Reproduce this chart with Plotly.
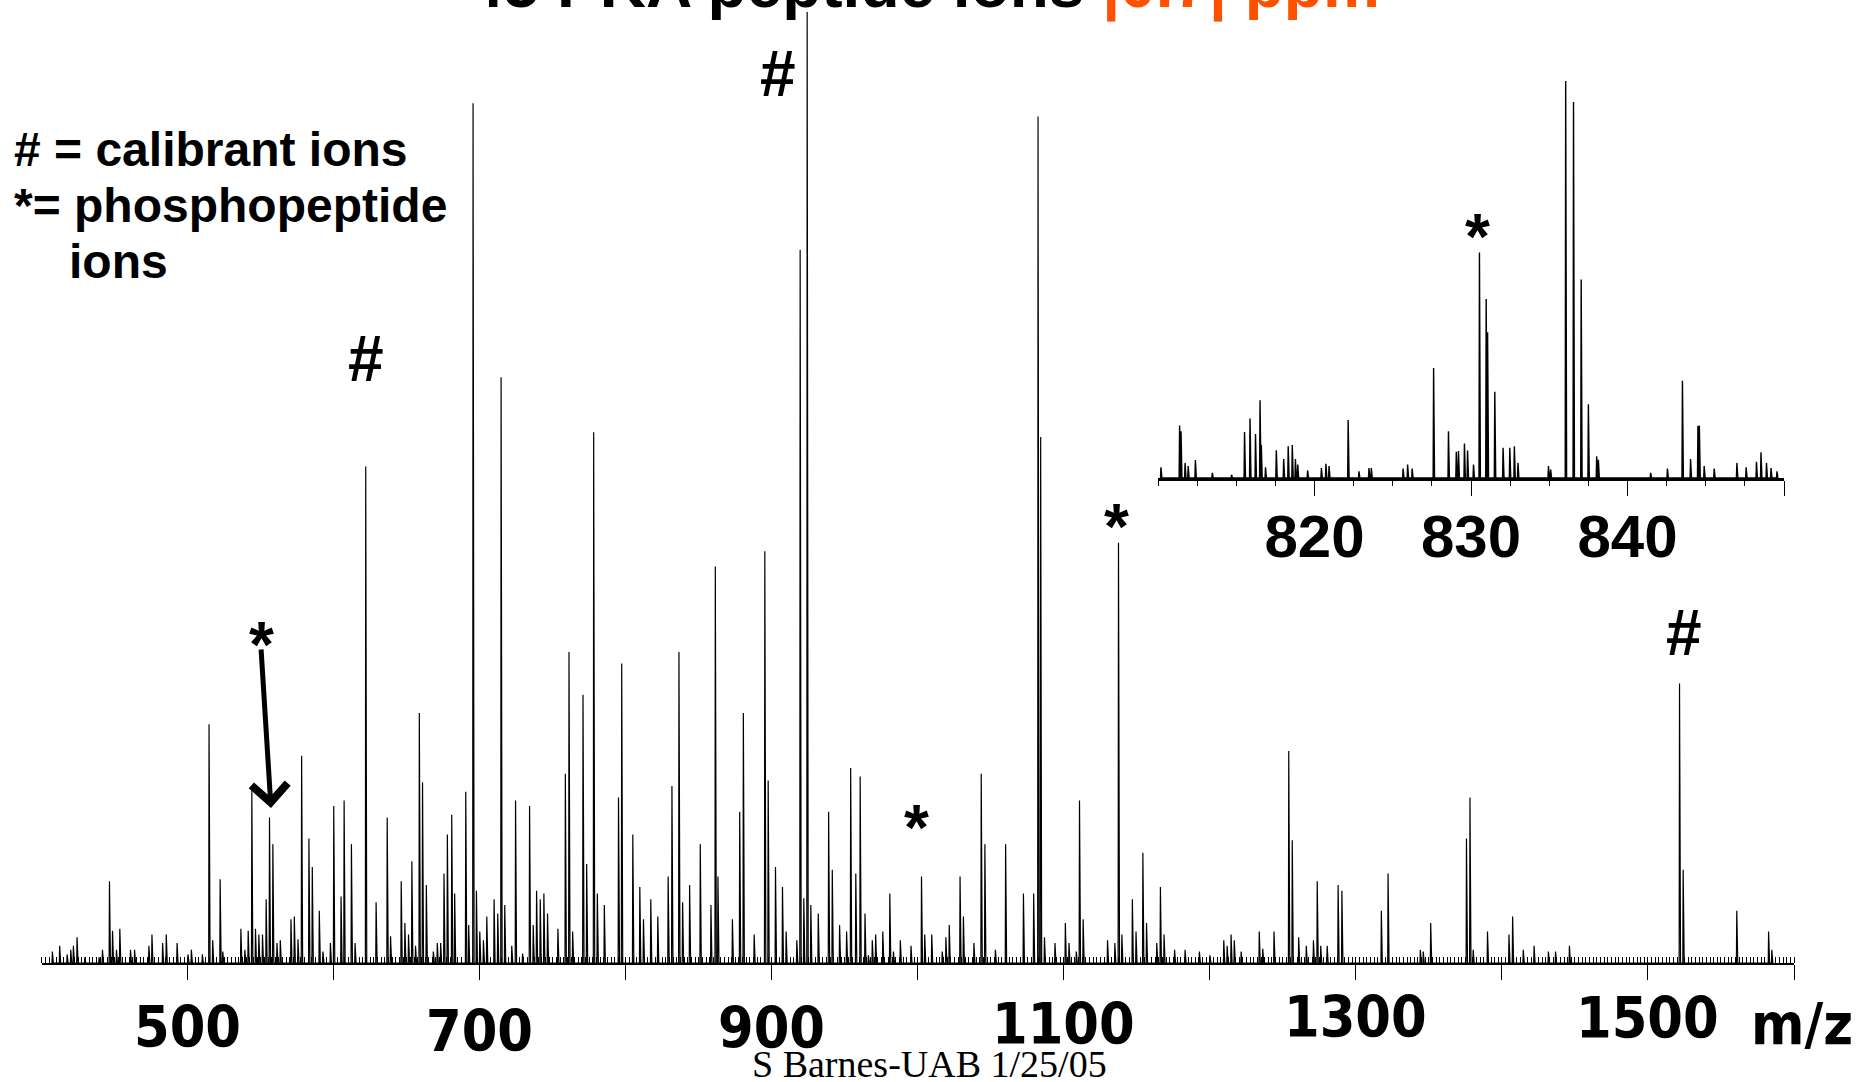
import plotly.graph_objects as go

# ---------------- data ----------------
# main spectrum: peak m/z and relative intensity (% of base peak)
main_mz = [407.3, 412.3, 417.4, 419.9, 421.7, 424.2, 429.5, 439.3, 441.6, 446.4, 448.5, 451.2, 453.5,
           460.8, 463.6, 473.4, 475.5, 482.8, 485.3, 492.7, 500.2, 502.5, 510.0, 514.6, 517.1, 522.2,
           524.0, 536.4, 539.1, 541.4, 543.9, 546.4, 548.7, 551.2, 553.7, 556.0, 558.3, 561.1, 563.4,
           570.7, 573.0, 575.5, 578.0, 583.0, 585.3, 590.1, 592.6, 597.7, 600.0, 605.0, 607.1, 612.1,
           614.6, 621.9, 629.0, 636.6, 638.9, 646.2, 648.7, 651.2, 653.5, 656.0, 658.6, 660.8, 663.4,
           668.2, 670.9, 673.2, 675.5, 677.8, 680.8, 682.8, 690.4, 692.4, 695.4, 697.7, 700.0, 702.5,
           704.8, 709.8, 712.3, 714.6, 717.1, 721.9, 724.5, 729.3, 734.1, 736.6, 738.9, 741.4, 743.9,
           746.4, 753.5, 758.6, 761.1, 763.6, 770.7, 773.2, 778.0, 780.5, 785.3, 795.0, 797.2, 804.8,
           809.6, 812.1, 817.1, 821.9, 829.0, 831.6, 836.4, 838.9, 843.7, 851.0, 858.3, 861.3, 863.1,
           873.0, 878.0, 880.5, 887.9, 895.2, 897.5, 902.5, 907.3, 909.8, 917.1, 919.4, 921.9, 924.2,
           926.7, 931.8, 938.9, 941.4, 946.4, 951.2, 954.0, 957.5, 960.5, 963.8, 966.1, 968.8, 971.1,
           976.0, 980.8, 983.3, 988.0, 995.3, 1002.5, 1004.7, 1009.5, 1016.7, 1019.2, 1021.5, 1028.9,
           1031.2, 1038.4, 1043.4, 1045.9, 1053.1, 1060.1, 1072.3, 1079.3, 1082.3, 1084.1, 1086.7,
           1093.9, 1101.0, 1103.5, 1108.5, 1110.7, 1113.2, 1129.9, 1134.9, 1137.4, 1139.7, 1146.9,
           1149.4, 1154.1, 1156.6, 1163.6, 1166.1, 1168.6, 1175.8, 1183.0, 1192.8, 1200.0, 1209.5,
           1211.8, 1214.5, 1216.7, 1221.4, 1233.8, 1236.2, 1243.9, 1254.0, 1256.4, 1260.8, 1266.0,
           1270.9, 1273.5, 1275.9, 1280.3, 1287.8, 1290.4, 1317.4, 1322.0, 1344.1, 1346.1, 1351.2,
           1375.7, 1378.1, 1380.3, 1390.1, 1404.8, 1407.3, 1414.6, 1422.0, 1431.8, 1436.7, 1446.2,
           1521.6, 1524.1, 1560.8, 1582.6, 1584.8]
main_int = [1.2, 1.8, 0.9, 1.4, 1.8, 2.7, 0.6, 0.6, 1.4, 8.6, 3.4, 1.4, 3.6,
            1.4, 1.4, 1.8, 3.0, 2.1, 3.0, 2.1, 0.9, 1.4, 0.9, 25.1, 2.4, 8.8,
            1.2, 3.6, 1.4, 3.4, 18.1, 3.6, 3.0, 3.0, 6.7, 15.3, 12.5, 2.1, 2.4,
            4.6, 4.9, 2.5, 21.8, 13.1, 10.1, 5.5, 1.2, 2.1, 16.5, 7.0, 17.1, 12.5,
            2.1, 52.2, 6.4, 15.3, 2.8, 8.6, 4.2, 3.0, 10.7, 1.8, 26.3, 19.0, 8.2,
            1.2, 2.1, 2.1, 9.4, 13.5, 15.6, 7.3, 18.0, 4.0, 90.4, 7.6, 3.3, 2.4,
            4.9, 6.7, 5.2, 61.6, 6.1, 1.8, 17.1, 1.0, 16.5, 4.0, 7.6, 6.7, 7.3,
            5.2, 3.6, 19.9, 32.7, 3.3, 28.2, 10.4, 55.8, 7.3, 6.1, 17.4, 31.5, 13.5,
            8.0, 4.6, 6.7, 4.9, 9.1, 18.6, 32.7, 6.4, 8.2, 12.5, 6.1, 41.7, 9.1,
            4.6, 15.9, 26.3, 3.0, 43.3, 19.2, 10.1, 8.0, 3.3, 2.4, 75.0, 6.8, 100.0,
            6.1, 5.2, 15.9, 9.8, 4.0, 3.3, 20.5, 9.4, 19.6, 5.2, 0.8, 2.4, 3.0,
            3.3, 7.3, 1.2, 2.4, 1.8, 9.1, 3.0, 3.0, 1.2, 2.7, 4.0, 9.1,
            4.9, 2.1, 19.9, 12.5, 1.4, 12.5, 7.3, 7.3, 89.0, 55.3, 2.7,
            2.1, 4.2, 2.1, 1.2, 17.1, 4.6, 2.4, 2.1, 44.2, 3.0, 6.7,
            3.3, 11.6, 4.2, 2.1, 8.0, 3.0, 1.4, 1.4, 1.2, 0.8, 2.4,
            1.8, 3.0, 2.4, 1.2, 3.3, 1.5, 3.3, 22.3, 12.9, 2.7, 1.8,
            2.4, 8.6, 1.8, 1.8, 8.2, 7.6, 5.5, 9.4, 1.4, 1.2, 4.2,
            13.1, 17.4, 1.4, 3.3, 3.0, 4.9, 1.4, 1.8, 1.2, 1.2, 1.8,
            29.4, 9.8, 5.5, 3.3, 1.4]

# inset spectrum (810-850 m/z)
inset_mz = [810.19, 811.38, 811.47, 811.73, 811.93, 812.39, 813.47, 814.70, 815.53, 815.88, 816.23,
            816.52, 816.60, 816.87, 817.56, 818.03, 818.32, 818.58, 818.78, 818.93, 819.56, 820.44,
            820.73, 820.93, 822.15, 822.84, 823.48, 823.63, 825.66, 825.95, 826.24, 827.61, 828.56,
            829.06, 829.20, 829.58, 829.78, 830.16, 830.54, 830.97, 831.06, 831.52, 832.05, 832.48,
            832.77, 833.00, 834.95, 835.09, 836.05, 836.55, 837.04, 837.50, 838.03, 838.14, 841.48,
            842.55, 843.51, 844.03, 844.50, 844.59, 844.90, 845.54, 846.99, 847.58, 848.24, 848.53,
            848.88, 849.17, 849.55]
inset_int = [2.7, 13.2, 11.8, 3.8, 3.0, 4.5, 1.3, 0.8, 11.6, 15.0, 11.1,
             19.6, 8.4, 2.7, 7.0, 4.8, 8.0, 8.3, 4.8, 3.4, 1.9, 2.5,
             3.6, 3.0, 14.6, 1.7, 2.5, 2.5, 2.4, 3.4, 2.4, 27.7, 11.8,
             6.6, 6.8, 8.7, 6.9, 3.4, 56.8, 45.1, 36.7, 21.7, 7.6, 7.6,
             8.0, 3.8, 3.0, 2.1, 100.0, 94.7, 50.0, 18.6, 5.5, 4.6, 1.3,
             2.4, 24.5, 4.8, 13.1, 13.2, 3.0, 2.4, 3.8, 2.7, 4.1, 6.5,
             3.8, 2.5, 1.7]

main_ticks = [500, 700, 900, 1100, 1300, 1500]
main_tick_labels = ["500", "700", "900", "1100", "1300", "1500"]
inset_ticks = [820, 830, 840, 850]
inset_tick_labels = ["820", "830", "840", ""]

calibrant_mz = [622.0, 904.0, 1524.5]
phospho_mz = [550.3, 999.4, 1135.7]
inset_phospho_mz = [830.4]

title_black = "45 PKA peptide ions "
title_orange = "|0.7| ppm"
legend_lines = ["# = calibrant ions", "*= phosphopeptide", "ions"]
credit = "S Barnes-UAB 1/25/05"


# ---------------- helpers ----------------
def profile(mzs, ints, left, right):
    pts = sorted(zip(mzs, ints))
    xs, ys = [], []
    for m, v in pts:
        xs += [m - left, m, m + right]
        ys += [0, v, 0]
    return xs, ys

W, H = 1862, 1082
def px(x):
    return x / W
def py(y):
    return 1 - y / H

mx, my = profile(main_mz, main_int, 0.25, 0.7)
ix, iy = profile(inset_mz, inset_int, 0.03, 0.06)

fig = go.Figure()
fig.add_trace(go.Scatter(x=mx, y=my, mode="lines", line=dict(color="black", width=1.2),
                         xaxis="x", yaxis="y", showlegend=False, hoverinfo="skip"))
fig.add_trace(go.Scatter(x=ix, y=iy, mode="lines", line=dict(color="black", width=1.4),
                         xaxis="x2", yaxis="y2", showlegend=False, hoverinfo="skip"))

NARROW = "Liberation Sans Narrow, Arial Narrow, DejaVu Sans Condensed, sans-serif"
SANS = "Liberation Sans, Arial, Helvetica, sans-serif"

fig.update_layout(
    width=W, height=H,
    margin=dict(l=0, r=0, t=0, b=0),
    paper_bgcolor="white", plot_bgcolor="white",
    xaxis=dict(domain=[px(41.7), px(1794)], range=[400, 1600], anchor="y",
               showline=True, linecolor="black", linewidth=2,
               ticks="outside", ticklen=15, tickwidth=1, tickcolor="black",
               tickvals=[500, 600, 700, 800, 900, 1000, 1100, 1200, 1300, 1400, 1500, 1600],
               showticklabels=False, showgrid=False, zeroline=False,
               minor=dict(ticks="inside", ticklen=6, tickwidth=1, tickcolor="black",
                          dtick=2.5, tick0=400, showgrid=False)),
    yaxis=dict(domain=[py(963), py(12)], range=[0, 100], visible=False),
    xaxis2=dict(domain=[px(1158), px(1784)], range=[810, 850], anchor="y2",
                showline=True, linecolor="black", linewidth=2.5,
                ticks="outside", ticklen=15, tickwidth=1, tickcolor="black",
                tickvals=inset_ticks, ticktext=inset_tick_labels,
                tickfont=dict(family=SANS, size=60, color="black", weight="bold"),
                ticklabelstandoff=-11,
                showgrid=False, zeroline=False,
                minor=dict(ticks="outside", ticklen=5, tickwidth=1, tickcolor="black",
                           dtick=2.5, showgrid=False)),
    yaxis2=dict(domain=[py(478), py(81)], range=[0, 100], anchor="x2", visible=False),
)

ann = []
# main tick labels
label_y = [1027, 1031, 1028, 1024, 1017, 1018]
for v, t, yy in zip(main_ticks, main_tick_labels, label_y):
    ann.append(dict(x=v, xref="x", y=py(yy), yref="paper", text="<b>%s</b>" % t, showarrow=False,
                    xanchor="center", yanchor="middle",
                    font=dict(family=NARROW, size=57, color="black")))
ann.append(dict(x=px(1802), xref="paper", y=py(1024), yref="paper", text="<b>m/z</b>", showarrow=False,
                xanchor="center", yanchor="middle", font=dict(family=NARROW, size=57, color="black")))

# title (clipped at the top of the page)
ann.append(dict(x=px(923.5), xref="paper", y=py(24), yref="paper",
                text="<b>%s<span style='color:#FF5000'>%s</span></b>" % (title_black, title_orange),
                showarrow=False, xanchor="center", yanchor="bottom",
                font=dict(family=SANS, size=64, color="black")))

# legend text
for t, (xx, yy) in zip(legend_lines, [(12, 150), (12, 206), (67, 262)]):
    ann.append(dict(x=px(xx), xref="paper", y=py(yy), yref="paper", text="<b>%s</b>" % t,
                    showarrow=False, xanchor="left", yanchor="middle",
                    font=dict(family=SANS, size=48, color="black")))

# calibrant markers
for m, yy in zip(calibrant_mz, [359, 74, 633]):
    ann.append(dict(x=m, xref="x", y=py(yy), yref="paper", text="<b>#</b>", showarrow=False,
                    xanchor="center", yanchor="middle", font=dict(family=SANS, size=64, color="black")))
# phosphopeptide markers
for m, yy in zip(phospho_mz, [645, 828, 527]):
    ann.append(dict(x=m, xref="x", y=py(yy), yref="paper", text="<b>*</b>", showarrow=False,
                    xanchor="center", yanchor="middle", font=dict(family=SANS, size=64, color="black")))
for m in inset_phospho_mz:
    ann.append(dict(x=m, xref="x2", y=py(237), yref="paper", text="<b>*</b>", showarrow=False,
                    xanchor="center", yanchor="middle", font=dict(family=SANS, size=64, color="black")))

# arrow to the phosphopeptide at ~556
ann.append(dict(x=px(271), xref="paper", y=py(808), yref="paper", text="", showarrow=True,
                ax=-10, ay=-160, axref="pixel", ayref="pixel", arrowhead=4, arrowsize=1.4,
                arrowwidth=5, arrowcolor="black", standoff=0))

# credit
ann.append(dict(x=px(929), xref="paper", y=py(1064), yref="paper", text=credit, showarrow=False,
                xanchor="center", yanchor="middle",
                font=dict(family="Liberation Serif, Times New Roman, serif", size=38, color="black")))

fig.update_layout(annotations=ann)
fig.write_html("out.html", config={"displayModeBar": False},
               post_script="document.body.style.margin='0px';document.body.style.overflow='hidden';")
